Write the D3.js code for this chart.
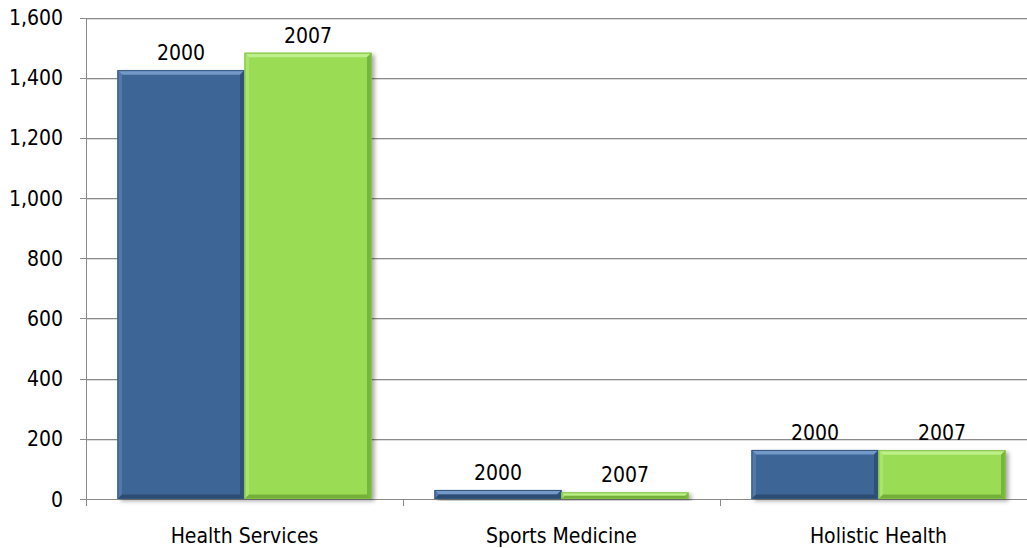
<!DOCTYPE html>
<html>
<head>
<meta charset="utf-8">
<script src="https://cdn.jsdelivr.net/npm/d3@7"></script>
<style>
  html, body { margin: 0; padding: 0; background: #fff; }
  svg { display: block; }
  text { font-family: "DejaVu Sans Condensed", "DejaVu Sans", sans-serif; font-stretch: condensed; fill: #000; }
</style>
</head>
<body>
<svg id="chart" width="1027" height="548"></svg>
<script>
const categories = ["Health Services", "Sports Medicine", "Holistic Health"];
const seriesNames = ["2000", "2007"];
const values2000 = [1425, 30, 163];
const values2007 = [1483, 22, 162];
const yTicks = [0, 200, 400, 600, 800, 1000, 1200, 1400, 1600];

const seriesValues = [values2000, values2007];
const colors = {
  "2000": { base: "#3E6696", top: "#7599C7", left: "#5279A9", right: "#2E5079", bottom: "#2C4C74", stroke: "#33587F" },
  "2007": { base: "#9ADD55", top: "#BDF08A", left: "#AAE56B", right: "#78B53C", bottom: "#74AF39", stroke: "#82BF45" }
};

const svg = d3.select("#chart");
const plotLeft = 86, plotTop = 17.5, plotBottom = 499, step = 317;
const x0 = d3.scaleBand().domain(categories).range([plotLeft, plotLeft + step * categories.length]).padding(0);
const x1 = d3.scaleBand().domain(seriesNames).range([0, x0.bandwidth()]).paddingInner(0).paddingOuter(0.248);
const y = d3.scaleLinear().domain([0, 1600]).range([plotBottom, plotTop]);

const defs = svg.append("defs");
const f = defs.append("filter").attr("id", "shadow").attr("x", "-10%").attr("y", "-10%").attr("width", "130%").attr("height", "130%");
f.append("feDropShadow").attr("dx", 3).attr("dy", 2).attr("stdDeviation", 2.2).attr("flood-color", "#000").attr("flood-opacity", 0.35);

// gridlines
svg.append("g").selectAll("line").data(yTicks).join("line")
  .attr("x1", plotLeft - 6).attr("x2", 1027)
  .attr("y1", d => Math.round(y(d)) + 0.5).attr("y2", d => Math.round(y(d)) + 0.5)
  .attr("stroke", "#8a8a8a").attr("stroke-width", 1);
svg.append("g").selectAll("line").data(yTicks.filter(d => d > 0)).join("line")
  .attr("x1", plotLeft).attr("x2", 1027)
  .attr("y1", d => Math.round(y(d)) + 1.5).attr("y2", d => Math.round(y(d)) + 1.5)
  .attr("stroke", "#dcdcdc").attr("stroke-width", 1);

// y axis line
svg.append("line").attr("x1", plotLeft + 0.5).attr("x2", plotLeft + 0.5)
  .attr("y1", Math.round(y(1600))).attr("y2", plotBottom + 7)
  .attr("stroke", "#8a8a8a");

// x axis tick marks at category boundaries
const boundaries = categories.map(c => x0(c)).slice(1);
svg.append("g").selectAll("line").data(boundaries).join("line")
  .attr("x1", d => Math.round(d) + 0.5).attr("x2", d => Math.round(d) + 0.5)
  .attr("y1", plotBottom).attr("y2", plotBottom + 7)
  .attr("stroke", "#8a8a8a");

// y tick labels
svg.append("g").selectAll("text").data(yTicks).join("text")
  .attr("x", plotLeft - 23).attr("y", d => y(d)).attr("dy", "0.36em")
  .attr("text-anchor", "end").attr("font-size", 21)
  .text(d => d3.format(",")(d));

// category labels
svg.append("g").selectAll("text").data(categories).join("text")
  .attr("x", d => x0(d) + x0.bandwidth() / 2).attr("y", 543)
  .attr("text-anchor", "middle").attr("font-size", 21)
  .text(d => d);

// bars
const barData = [];
categories.forEach((c, i) => {
  seriesNames.forEach((s, j) => {
    barData.push({ cat: c, series: s, value: seriesValues[j][i] });
  });
});

const bars = svg.append("g").selectAll("g").data(barData).join("g");
bars.each(function(d) {
  const g = d3.select(this);
  const x = x0(d.cat) + x1(d.series);
  const w = x1.bandwidth();
  const yt = y(d.value);
  const h = y(0) - yt;
  const b = Math.min(4.5, h / 2);
  const c = colors[d.series];
  g.append("rect").attr("x", x).attr("y", yt).attr("width", w).attr("height", h)
    .attr("fill", c.base).attr("filter", "url(#shadow)");
  g.append("polygon").attr("points", [[x, yt], [x + w, yt], [x + w - b, yt + b], [x + b, yt + b]].join(" ")).attr("fill", c.top);
  g.append("polygon").attr("points", [[x, yt], [x + b, yt + b], [x + b, yt + h - b], [x, yt + h]].join(" ")).attr("fill", c.left);
  g.append("polygon").attr("points", [[x + w, yt], [x + w, yt + h], [x + w - b, yt + h - b], [x + w - b, yt + b]].join(" ")).attr("fill", c.right);
  g.append("polygon").attr("points", [[x, yt + h], [x + w, yt + h], [x + w - b, yt + h - b], [x + b, yt + h - b]].join(" ")).attr("fill", c.bottom);
  g.append("rect").attr("x", x + 0.5).attr("y", yt + 0.5).attr("width", w - 1).attr("height", Math.max(0, h - 1))
    .attr("fill", "none").attr("stroke", c.stroke).attr("stroke-width", 1);
  g.append("text").attr("x", x + w / 2).attr("y", yt - 10)
    .attr("text-anchor", "middle").attr("font-size", 21)
    .text(d.series);
});
</script>
</body>
</html>
